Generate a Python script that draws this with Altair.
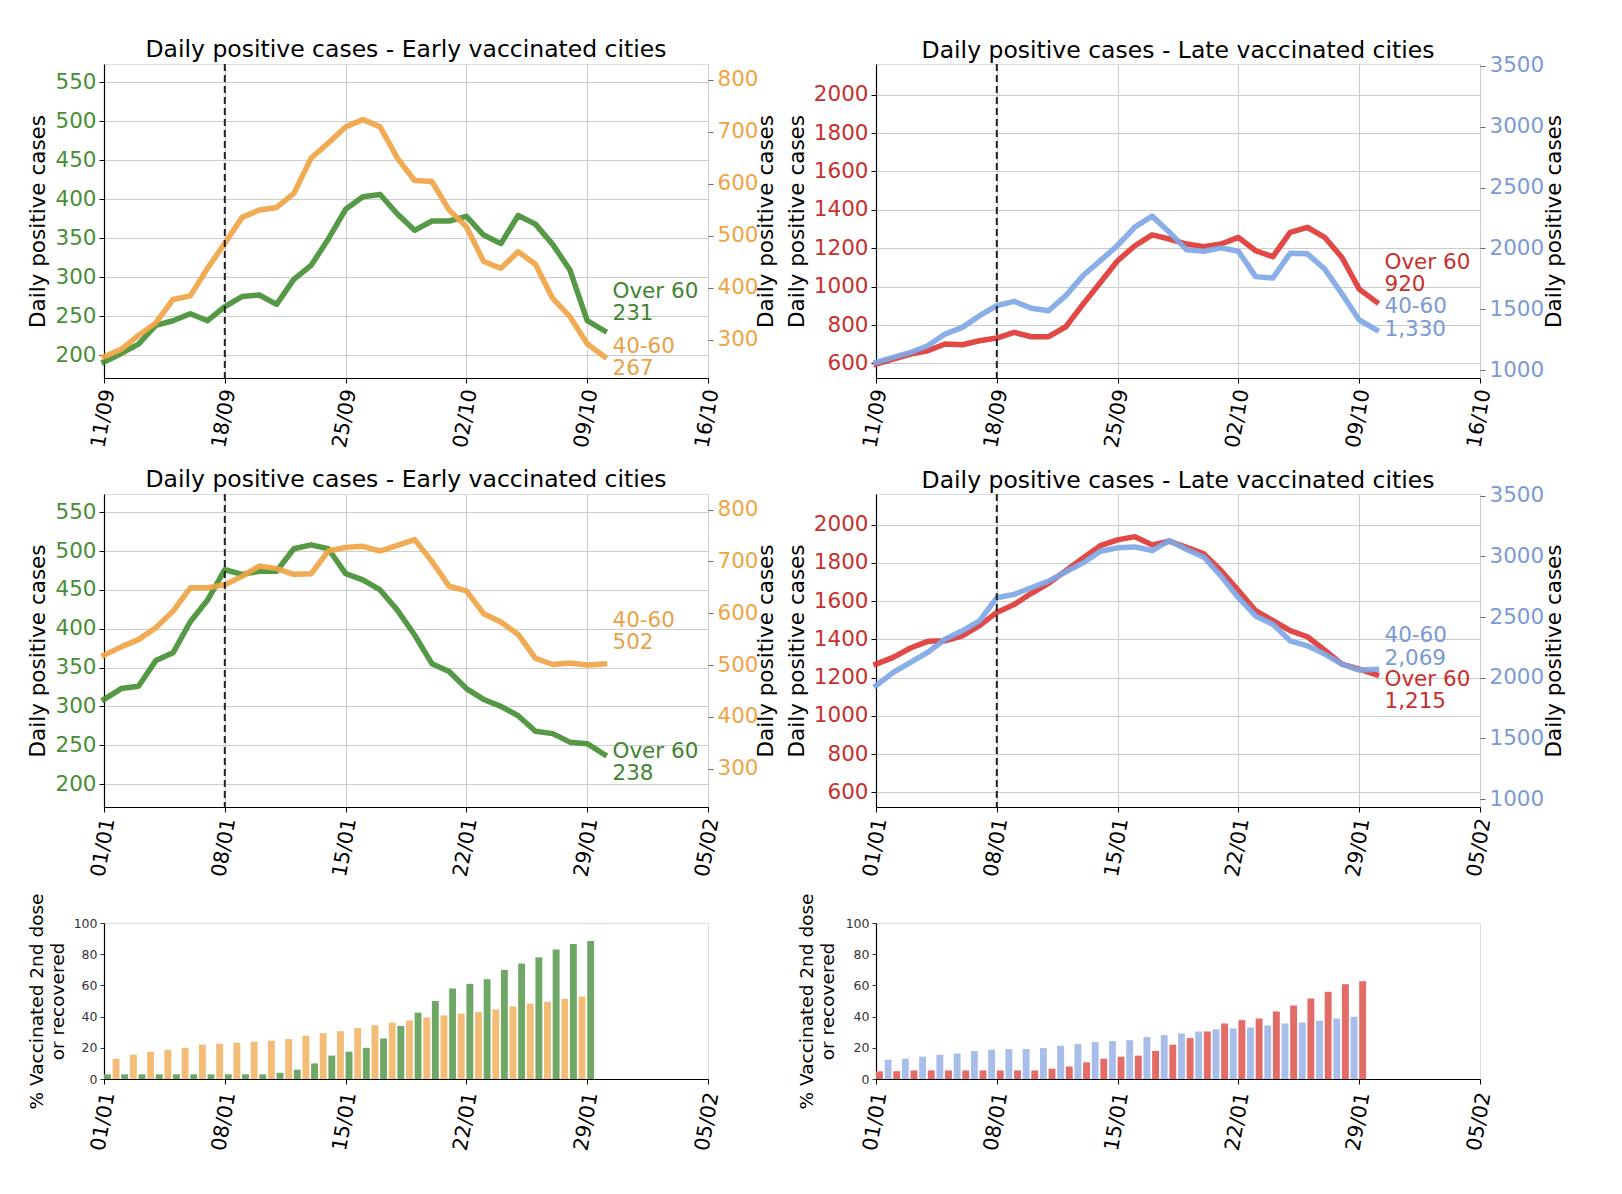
import altair as alt
import pandas as pd

# ---------------- data ----------------
TICK_DAYS = [0, 7, 14, 21, 28, 35]
SEP_TICK_LABELS = ["11/09", "18/09", "25/09", "02/10", "09/10", "16/10"]
JAN_TICK_LABELS = ["01/01", "08/01", "15/01", "22/01", "29/01", "05/02"]
VLINE_DAY = 7
NAME_OVER60 = "Over 60"
NAME_40_60 = "40-60"

early_sep_over60 = [191, 202, 214, 238, 244, 253, 244, 262, 275, 277, 265, 297, 315, 349, 387,
                    403, 406, 381, 360, 372, 372, 378, 354, 343, 379, 368, 342, 309, 244, 231]
early_sep_40_60 = [267, 281, 308, 332, 377, 384, 437, 485, 535, 549, 554, 581, 649, 678, 709,
                   723, 709, 649, 606, 604, 549, 517, 450, 437, 469, 445, 379, 344, 292, 267]
late_sep_over60 = [597, 623, 649, 666, 701, 697, 718, 732, 762, 739, 739, 791, 909, 1022, 1135,
                   1213, 1270, 1248, 1222, 1208, 1222, 1257, 1187, 1156, 1283, 1309, 1257, 1152, 987, 920]
late_sep_40_60 = [1063, 1104, 1145, 1200, 1296, 1351, 1447, 1530, 1565, 1508, 1488, 1612, 1777, 1900, 2024,
                  2175, 2265, 2133, 1988, 1977, 2004, 1977, 1768, 1757, 1960, 1955, 1831, 1626, 1412, 1330]
early_jan_over60 = [309, 323, 326, 359, 369, 409, 437, 476, 470, 474, 474, 503, 508, 503, 471,
                    463, 450, 424, 392, 355, 345, 323, 309, 300, 288, 268, 265, 254, 252, 238]
early_jan_40_60 = [519, 535, 549, 572, 604, 649, 649, 655, 671, 691, 686, 675, 676, 720, 727,
                   729, 720, 731, 742, 700, 652, 643, 599, 583, 559, 513, 501, 504, 500, 502]
late_jan_over60 = [1271, 1306, 1355, 1390, 1393, 1419, 1472, 1541, 1582, 1641, 1693, 1759, 1826, 1890, 1920,
                   1937, 1894, 1913, 1881, 1847, 1759, 1655, 1550, 1498, 1446, 1414, 1344, 1271, 1245, 1215]
late_jan_40_60 = [1935, 2045, 2127, 2209, 2318, 2387, 2469, 2660, 2688, 2742, 2797, 2874, 2947, 3043, 3071,
                  3079, 3049, 3131, 3057, 2994, 2838, 2660, 2510, 2441, 2305, 2264, 2195, 2113, 2064, 2069]

early_vacc_over60 = [3, 3, 3, 3, 3, 3, 3, 3, 3, 3, 4, 6, 10, 15, 17.5, 20, 26, 34, 42.5, 50,
                     58, 61, 64, 70, 74, 78, 83, 86.5, 88.5]
early_vacc_40_60 = [13, 15.6, 17.5, 18.8, 20, 22, 22.6, 23.2, 23.9, 24.5, 25.6, 27.7, 29.4, 30.7,
                    32.6, 34.5, 36.2, 37.5, 39.4, 40.7, 42, 43, 44.6, 46.5, 48.4, 49.5, 51.4, 52.9]
late_vacc_over60 = [4.9, 5, 5.5, 5.5, 5.5, 5.5, 5.5, 5.5, 5.5, 5.5, 6.6, 8, 10.7, 13, 14.3, 15,
                    18, 22, 26.2, 30.5, 35.6, 37.7, 38.8, 43.3, 47.1, 51.6, 55.9, 60.8, 62.7]
late_vacc_40_60 = [12.4, 13, 14.3, 15.6, 16.4, 17.9, 18.8, 19.2, 19.2, 19.8, 21.3, 22.4, 23.7, 24.3,
                   24.9, 26.9, 28.1, 29.2, 30.5, 31.8, 32.4, 33, 34.3, 35.6, 36.2, 37.3, 38.8, 39.9]

TITLE_EARLY = "Daily positive cases - Early vaccinated cities"
TITLE_LATE = "Daily positive cases - Late vaccinated cities"
Y_TITLE = "Daily positive cases"
BAR_Y_TITLE = ["% Vaccinated 2nd dose", "or recovered"]

# ---------------- style ----------------
FONT = "DejaVu Sans"
W = 604
GREEN, ORANGE, RED, BLUE = "#478f35", "#f0a445", "#dd3a35", "#7fa7e6"
GREEN_T, ORANGE_T, RED_T, BLUE_T = "#3f8530", "#e9a24a", "#c8302d", "#7a9ad6"
GREEN_B, ORANGE_B, RED_B, BLUE_B = "#6fa866", "#f3bd77", "#e36c66", "#a8bde9"


def x_enc(field, labels, grid, pad):
    expr = "[" + ",".join("'%s'" % l for l in labels) + "][indexof(" + str(TICK_DAYS) + ", datum.value)]"
    return alt.X(
        field + ":Q",
        scale=alt.Scale(domain=[0, 35], nice=False, zero=False),
        axis=alt.Axis(values=TICK_DAYS, labelExpr=expr, title="", grid=grid,
                      gridColor="#cccccc", gridWidth=1, labelAngle=280, labelAlign="right",
                      labelBaseline="middle", labelFont=FONT, labelFontSize=20.5, labelColor="black",
                      labelPadding=pad, labelOffset=4, tickSize=5, tickColor="black",
                      domainColor="black", domainWidth=1.2, labelFlush=False, labelOverlap=False),
    )


def y_enc(dom, ticks, orient, lblcol, title_x, grid, h):
    return alt.Y(
        "value:Q",
        scale=alt.Scale(domain=dom, nice=False, zero=False),
        axis=alt.Axis(values=ticks, orient=orient, format="d", title=Y_TITLE, titleFont=FONT,
                      titleFontSize=21.5, titleFontWeight="normal", titleColor="black", titleX=title_x,
                      titleY=h / 2, titleAlign="center", titleAngle=270, titleBaseline="middle",
                      grid=grid, gridColor="#cccccc",
                      gridWidth=1, labelColor=lblcol, labelFont=FONT, labelFontSize=21.5,
                      labelPadding=3 if orient == "left" else 4, tickSize=5,
                      tickColor="black" if orient == "left" else "#666666",
                      domain=(orient == "left"), domainColor="black", domainWidth=1.2),
    )


def series_layer(vals, name, dom, ticks, orient, col, lblcol, txtcol, title_x, grid, dy, labels, h):
    df = pd.DataFrame({"day": list(range(len(vals))), "value": vals})
    last = pd.DataFrame({"day": [len(vals) - 1], "value": [vals[-1]], "name": [name]})
    xe = x_enc("day", labels, True, 6)
    ye = y_enc(dom, ticks, orient, lblcol, title_x, grid, h)
    line = alt.Chart(df).mark_line(color=col, strokeWidth=5.5, opacity=0.92, strokeJoin="round",
                                   strokeCap="square").encode(x=xe, y=ye)
    txt = alt.Chart(last).transform_calculate(
        label="datum.name + '\\n' + format(datum.value, ',')"
    ).mark_text(align="left", baseline="middle", dx=8, dy=dy, lineBreak="\n", font=FONT,
                fontSize=21.5, lineHeight=22.5, color=txtcol).encode(x=xe, y=ye, text="label:N")
    return alt.layer(line, txt)


def line_panel(title, labels, lv, rv, ldom, rdom, lticks, rticks, lc, rc, llc, rlc, ltc, rtc,
               ldy, rdy, ltx, rtx, h, toff):
    left = series_layer(lv, NAME_OVER60, ldom, lticks, "left", lc, llc, ltc, ltx, True, ldy, labels, h)
    right = series_layer(rv, NAME_40_60, rdom, rticks, "right", rc, rlc, rtc, rtx, False, rdy, labels, h)
    rule = alt.Chart(pd.DataFrame({"day": [VLINE_DAY]})).mark_rule(
        color="#222222", strokeWidth=2, strokeDash=[7, 4]).encode(x=x_enc("day", labels, True, 6))
    return alt.layer(left, right, rule).resolve_scale(y="independent").properties(
        width=W, height=h,
        title=alt.TitleParams(text=title, font=FONT, fontSize=23.5, fontWeight="normal", color="black",
                              offset=toff, baseline="alphabetic", anchor="middle", frame="group"))


def bar_panel(over, mid, oc, mc, title_x, labels):
    ye = alt.Y("value:Q", scale=alt.Scale(domain=[0, 100], nice=False),
               axis=alt.Axis(values=[0, 20, 40, 60, 80, 100], title=BAR_Y_TITLE, titleFont=FONT,
                             titleFontSize=18.5, titleFontWeight="normal", titleColor="black",
                             titleLineHeight=21, titleX=title_x, titleY=78, titleAlign="center",
                             titleAngle=270, titleBaseline="middle",
                             grid=False, labelFont=FONT, labelFontSize=12.5, labelColor="#333333",
                             labelPadding=3, tickSize=4, tickColor="#333333", domainColor="black",
                             domainWidth=1.2))
    xe = x_enc("x0", labels, False, 8)
    d_o = pd.DataFrame({"day": list(range(len(over))), "value": over})
    d_m = pd.DataFrame({"day": list(range(len(mid))), "value": mid})
    b_o = alt.Chart(d_o).transform_calculate(
        x0="datum.day", x1="datum.day + 0.4", base="0").mark_bar(
        color=oc).encode(x=xe, x2="x1:Q", y=ye, y2="base:Q")
    b_m = alt.Chart(d_m).transform_calculate(
        x0="datum.day + 0.5", x1="datum.day + 0.9", base="0").mark_bar(
        color=mc).encode(x=xe, x2="x1:Q", y=ye, y2="base:Q")
    return alt.layer(b_o, b_m).properties(width=W, height=156)


GREEN_DOM, ORANGE_DOM = [170.5, 573.5], [226, 830]
RED_DOM, BLUE_DOM = [524, 2160], [935, 3515]
GREEN_TICKS = [200, 250, 300, 350, 400, 450, 500, 550]
ORANGE_TICKS = [300, 400, 500, 600, 700, 800]
RED_TICKS = [600, 800, 1000, 1200, 1400, 1600, 1800, 2000]
BLUE_TICKS = [1000, 1500, 2000, 2500, 3000, 3500]

p1 = line_panel(TITLE_EARLY, SEP_TICK_LABELS, early_sep_over60, early_sep_40_60, GREEN_DOM, ORANGE_DOM,
                GREEN_TICKS, ORANGE_TICKS, GREEN, ORANGE, GREEN, ORANGE, GREEN_T, ORANGE_T,
                -39, -10, -66, 58.5, 314, -17)
p2 = line_panel(TITLE_LATE, SEP_TICK_LABELS, late_sep_over60, late_sep_40_60, RED_DOM, BLUE_DOM,
                RED_TICKS, BLUE_TICKS, RED, BLUE, RED_T, BLUE_T, RED_T, BLUE_T,
                -39, -22.5, -79, 74, 314, -26.5)
p3 = line_panel(TITLE_EARLY, JAN_TICK_LABELS, early_jan_over60, early_jan_40_60, GREEN_DOM, ORANGE_DOM,
                GREEN_TICKS, ORANGE_TICKS, GREEN, ORANGE, GREEN, ORANGE, GREEN_T, ORANGE_T,
                -3, -43, -66, 58.5, 313, -17)
p4 = line_panel(TITLE_LATE, JAN_TICK_LABELS, late_jan_over60, late_jan_40_60, RED_DOM, BLUE_DOM,
                RED_TICKS, BLUE_TICKS, RED, BLUE, RED_T, BLUE_T, RED_T, BLUE_T,
                5, -33, -79, 74, 313, -26.5)
p5 = bar_panel(early_vacc_over60, early_vacc_40_60, GREEN_B, ORANGE_B, -68, JAN_TICK_LABELS)
p6 = bar_panel(late_vacc_over60, late_vacc_40_60, RED_B, BLUE_B, -70, JAN_TICK_LABELS)

chart = alt.concat(p1, p2, p3, p4, p5, p6, columns=2,
                   spacing={"row": 116, "column": 168}, bounds="flush").properties(
    padding={"left": 18, "top": 29, "right": 5, "bottom": 5}
).configure_view(stroke="transparent").configure(font=FONT)

chart.save("out.html", embed_options={"renderer": "svg", "actions": False})
